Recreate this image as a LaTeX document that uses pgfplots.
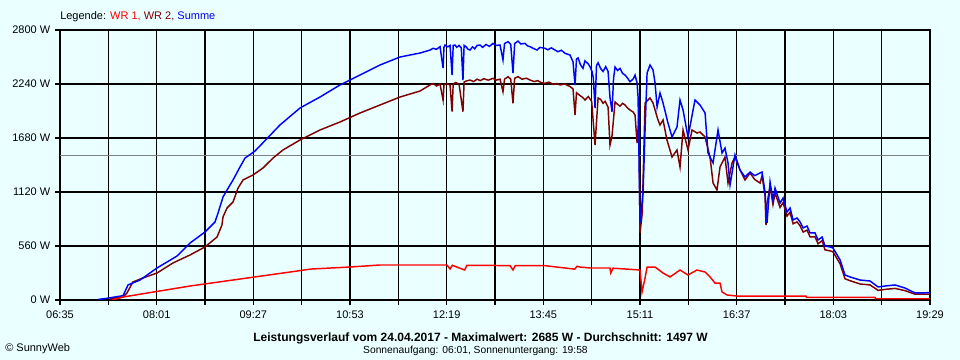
\documentclass[border=0pt]{standalone}
\usepackage{pgfplots}
\pgfplotsset{compat=1.18}
\usepackage{fontspec}
\setmainfont{Liberation Sans}
\definecolor{bgc}{RGB}{234,255,255}
\definecolor{wrone}{RGB}{255,0,0}
\definecolor{wrtwo}{RGB}{128,0,0}
\definecolor{summe}{RGB}{0,0,255}
\definecolor{avg}{RGB}{128,128,128}
\begin{document}
\begin{tikzpicture}
\fill[bgc] (0,0) rectangle (720pt,270pt);
\useasboundingbox (0,0) rectangle (720pt,270pt);
\begin{axis}[
  at={(45pt,45pt)}, anchor=south west,
  scale only axis, width=652.5pt, height=202.5pt,
  xmin=395, xmax=1169, ymin=0, ymax=2800,
  axis background/.style={fill=bgc},
  grid=major, grid style={black, line width=1pt},
  axis line style={black, line width=1pt},
  tick style={black, line width=1pt},
  tick align=outside, major tick length=3.75pt,
  xtick pos=left, ytick pos=left,
  xtick={395,438,481,524,567,610,653,696,739,782,825,868,911,954,997,1040,1083,1126,1169},
  xticklabels={06:35,,08:01,,09:27,,10:53,,12:19,,13:45,,15:11,,16:37,,18:03,,19:29},
  ytick={0,560,1120,1680,2240,2800},
  yticklabels={0 W,560 W,1120 W,1680 W,2240 W,2800 W},
  ticklabel style={font=\fontsize{8.25}{10}\selectfont},
  xticklabel style={yshift=-1pt},
]
\addplot[avg, line width=0.8pt] coordinates {(395,1497) (1169,1497)};
% WR 2
\addplot[wrtwo, line width=1.1pt] table {
439.5 10
451.1 31
454.6 73
459.9 187
468.8 228
481.3 280
495.5 384
510.7 467
524 550
534.7 653
539.1 778
540 861
543.6 954
548.9 1016
553.4 1161
557.8 1244
566.7 1296
575.6 1369
584.5 1472
593.4 1556
608.5 1659
626.3 1763
644.1 1846
661.9 1939
679.7 2022
697.5 2105
715.3 2167
724.2 2230
727 2245
730 2220
733.1 2240
735.8 2074
736.6 2230
739 2245
742 2230
743.8 1953
744.8 2240
747 2255
750 2240
753.5 1953
754.5 2260
756.2 2270
759.8 2281
763 2265
766 2290
769 2275
772 2295
776 2280
780.2 2299
783 2280
786.5 2290
789.1 2160
790.5 2290
793.6 2316
796 2290
798 2040
799.5 2300
802.5 2316
806 2290
810 2300
813.2 2281
817 2265
820 2275
823 2255
826.5 2247
830 2260
834 2235
837 2245
840 2230
844 2240
848.7 2214
851.4 2190
853.2 1918
854.5 2150
857 2126
860 2100
862.1 2074
865 2110
868 2060
871 1607
873.7 2095
876 2080
878.1 2040
880 2060
882.6 2000
884.3 1607
886.1 1700
888.8 2053
891 2030
893.2 2010
895.5 2040
897.7 2022
900 1990
902.1 1970
904.8 1950
906.6 1918
908.4 1628
910 1900
911 695
913 900
915.5 2043
919.9 2095
922.6 2043
924.4 1970
927 1867
928.8 1815
931.5 1867
935 1659
939.5 1483
943.9 1556
946.6 1379
949.3 1763
953.7 1556
957.3 1763
961.7 1732
964.4 1742
968.9 1690
973.3 1483
976 1213
979.5 1141
982.2 1379
986.6 1483
989.3 1213
992.9 1421
995.5 1483
1000 1348
1004.4 1244
1008.9 1317
1013 1250
1017.8 1213
1019.6 1290
1022.2 1080
1023.1 778
1024 1000
1026.7 1180
1029.3 990
1031.1 1110
1035.6 960
1038.3 1010
1041.8 870
1044.5 910
1047.2 790
1050.7 810
1053.4 770
1056.1 705
1059.6 725
1062.3 655
1066.7 655
1069.4 583
1073 615
1075.6 520
1080.1 510
1082.7 500
1089 375
1093.4 220
1097.9 200
1106.8 166
1115.7 156
1122.8 100
1129 110
1137.9 120
1146.8 97
1155.7 60
1169 62
};
% Summe
\addplot[summe, line width=1.1pt] table {
428.8 5
438.6 21
451.1 45
455.5 156
466.2 207
481.3 332
499.1 456
510.7 591
524 705
532.9 809
535.6 902
540 1068
543.6 1141
548.9 1244
555.1 1379
559.6 1472
568.5 1545
590.7 1815
608.5 1991
626.3 2105
644.1 2230
661.9 2333
679.7 2437
697.5 2520
715.3 2561
724.2 2592
726.9 2610
730 2600
733.1 2627
735.8 2406
736.6 2620
737.5 2644
740 2625
742 2640
743.8 2333
744.8 2640
746.4 2644
748 2620
750 2640
752 2615
753.5 2281
754.5 2640
756.2 2627
758 2600
759.8 2592
762 2625
764 2605
766 2640
768.7 2644
771 2620
774 2650
777 2630
780.2 2661
783 2640
786.5 2644
789.1 2489
790.5 2660
793.6 2679
796 2650
798 2354
799.5 2660
802.5 2685
805 2655
808.7 2661
811 2635
813.2 2627
816 2610
819.4 2592
822 2620
826.5 2610
829 2595
832 2615
835.4 2592
838 2575
841 2590
844.3 2558
848.7 2541
851.4 2470
853.2 2230
854.5 2500
855.9 2510
858 2440
860.3 2402
862 2480
864.8 2450
866.5 2420
868.3 2370
869.5 2300
871 1991
872.3 2430
873.7 2460
876 2400
878.1 2370
880.5 2420
882.6 2370
884.3 2100
886.1 1953
887.5 2300
888.8 2416
891 2380
893.2 2402
895.5 2350
897.7 2333
900 2300
902.1 2264
904.8 2290
906.6 2333
908.4 2250
909.3 2100
911 798
913.7 1110
915.5 1763
917.3 2354
919.9 2437
922.6 2385
924.4 2250
926.2 2001
928.8 2147
931.5 2043
935.9 1835
939.5 1690
943.9 1794
946.6 2074
949.3 1970
953.7 1690
959.9 2074
964.4 2022
968.9 1939
971.5 1524
976 1421
980.4 1763
984 1524
986.6 1576
989.3 1421
991.1 1193
995.5 1504
1000 1348
1004.4 1276
1008.9 1327
1013 1290
1017.8 1317
1019.6 1327
1022.2 1120
1024 798
1026.7 1224
1029.3 1037
1031.1 1161
1035.6 1006
1038.3 1058
1041.8 912
1044.5 954
1047.2 830
1050.7 850
1053.4 809
1056.1 747
1059.6 767
1062.3 695
1066.7 695
1069.4 622
1073 653
1075.6 560
1080.1 550
1082.7 539
1089 415
1093.4 259
1097.9 239
1106.8 207
1115.7 197
1122.8 135
1129 145
1137.9 156
1146.8 124
1155.7 73
1169 76
};
% WR 1
\addplot[wrone, line width=1.1pt] table {
441.3 0
451.1 31
510.7 145
599.6 290
618.3 321
653 342
679.7 363
739.3 363
742 321
744 360
755 311
757 360
768.7 360
795.4 356
798 311
800 356
826.5 356
853 320
855 350
857.6 342
866.5 332
884.3 332
885 280
887 330
911 311
912.8 83
915.5 228
917.3 342
924.4 342
931.5 280
937.7 239
946.6 311
953.7 259
961.7 311
968.9 290
973.3 239
977.7 176
982.2 176
984 83
988.4 52
997.3 41
1058.7 41
1059 28
1120.1 28
1120.5 13
1169 13
};
\end{axis}
\node[anchor=west, font=\fontsize{8.25}{10}\selectfont, inner sep=0pt] at (45pt,257.25pt) {Legende: \textcolor{wrone}{WR 1,} \textcolor{wrtwo}{WR 2,} \textcolor{summe}{Summe}};
\node[font=\fontsize{9}{10}\selectfont\bfseries, inner sep=0pt] at (360.4pt,16.5pt) {Leistungsverlauf vom 24.04.2017 - Maximalwert: 2685 W - Durchschnitt: 1497 W};
\node[font=\fontsize{7.7}{9}\selectfont, inner sep=0pt] at (356.6pt,6.75pt) {Sonnenaufgang: 06:01, Sonnenuntergang: 19:58};
\node[anchor=west, font=\fontsize{8.25}{10}\selectfont, inner sep=0pt] at (3.75pt,8.25pt) {© SunnyWeb};
\end{tikzpicture}
\end{document}
